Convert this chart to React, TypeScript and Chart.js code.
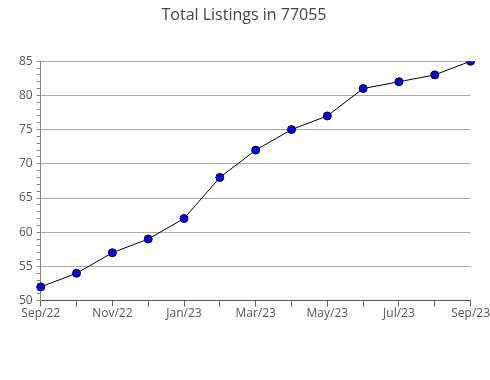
import React, { useEffect, useRef } from "react";
import { Chart, registerables } from "chart.js";

Chart.register(...registerables);

const months = ["Sep/22", "Oct/22", "Nov/22", "Dec/22", "Jan/23", "Feb/23", "Mar/23", "Apr/23", "May/23", "Jun/23", "Jul/23", "Aug/23", "Sep/23"];
const listings = [52, 54, 57, 59, 62, 68, 72, 75, 77, 81, 82, 83, 85];
const titleText = "Total Listings in 77055";

export default function App() {
  const ref = useRef<HTMLCanvasElement | null>(null);
  useEffect(() => {
    if (!ref.current) return;
    const chart = new Chart(ref.current, {
      type: "line",
      data: {
        labels: months,
        datasets: [
          {
            data: listings,
            borderColor: "#000000",
            borderWidth: 1,
            backgroundColor: "#0000ff",
            pointBackgroundColor: "#0000ff",
            pointBorderColor: "#000000",
            pointBorderWidth: 1,
            pointRadius: 4,
            tension: 0,
          },
        ],
      },
      options: {
        animation: false,
        responsive: false,
        maintainAspectRatio: false,
        layout: { padding: { left: 15, right: 17, top: 0, bottom: 59 } },
        plugins: {
          legend: { display: false },
          tooltip: { enabled: false },
          title: {
            display: true,
            text: titleText,
            color: "#444444",
            font: { family: "Open Sans", size: 16, weight: "normal" },
            padding: { top: 6, bottom: 36 },
          },
        },
        scales: {
          x: {
            type: "category",
            offset: false,
            border: { color: "#555555", width: 1 },
            grid: { drawOnChartArea: false, drawTicks: true, tickLength: 6, color: "#666666" },
            ticks: {
              autoSkip: false,
              maxRotation: 0,
              padding: 0,
              color: "#555555",
              font: { family: "Open Sans", size: 12 },
              callback: (_v: any, i: number) => (i % 2 === 0 ? months[i] : ""),
            },
          },
          y: {
            min: 50,
            max: 85,
            border: { color: "#888888", width: 1 },
            grid: {
              drawTicks: true,
              tickLength: 4,
              color: (ctx: any) => (ctx.tick && ctx.tick.value % 5 === 0 ? "#aaaaaa" : "rgba(0,0,0,0)"),
              tickColor: "#888888",
            },
            ticks: {
              stepSize: 1,
              autoSkip: false,
              padding: 4,
              color: "#555555",
              font: { family: "Open Sans", size: 12 },
              callback: (v: any) => (Number(v) % 5 === 0 ? String(v) : ""),
            },
          },
        },
      },
    });
    return () => chart.destroy();
  }, []);
  return (
    <div style={{ position: "fixed", left: 0, top: 0, width: 490, height: 380, background: "#fff" }}>
      <canvas ref={ref} width={490} height={380} style={{ width: 490, height: 380 }} />
    </div>
  );
}
